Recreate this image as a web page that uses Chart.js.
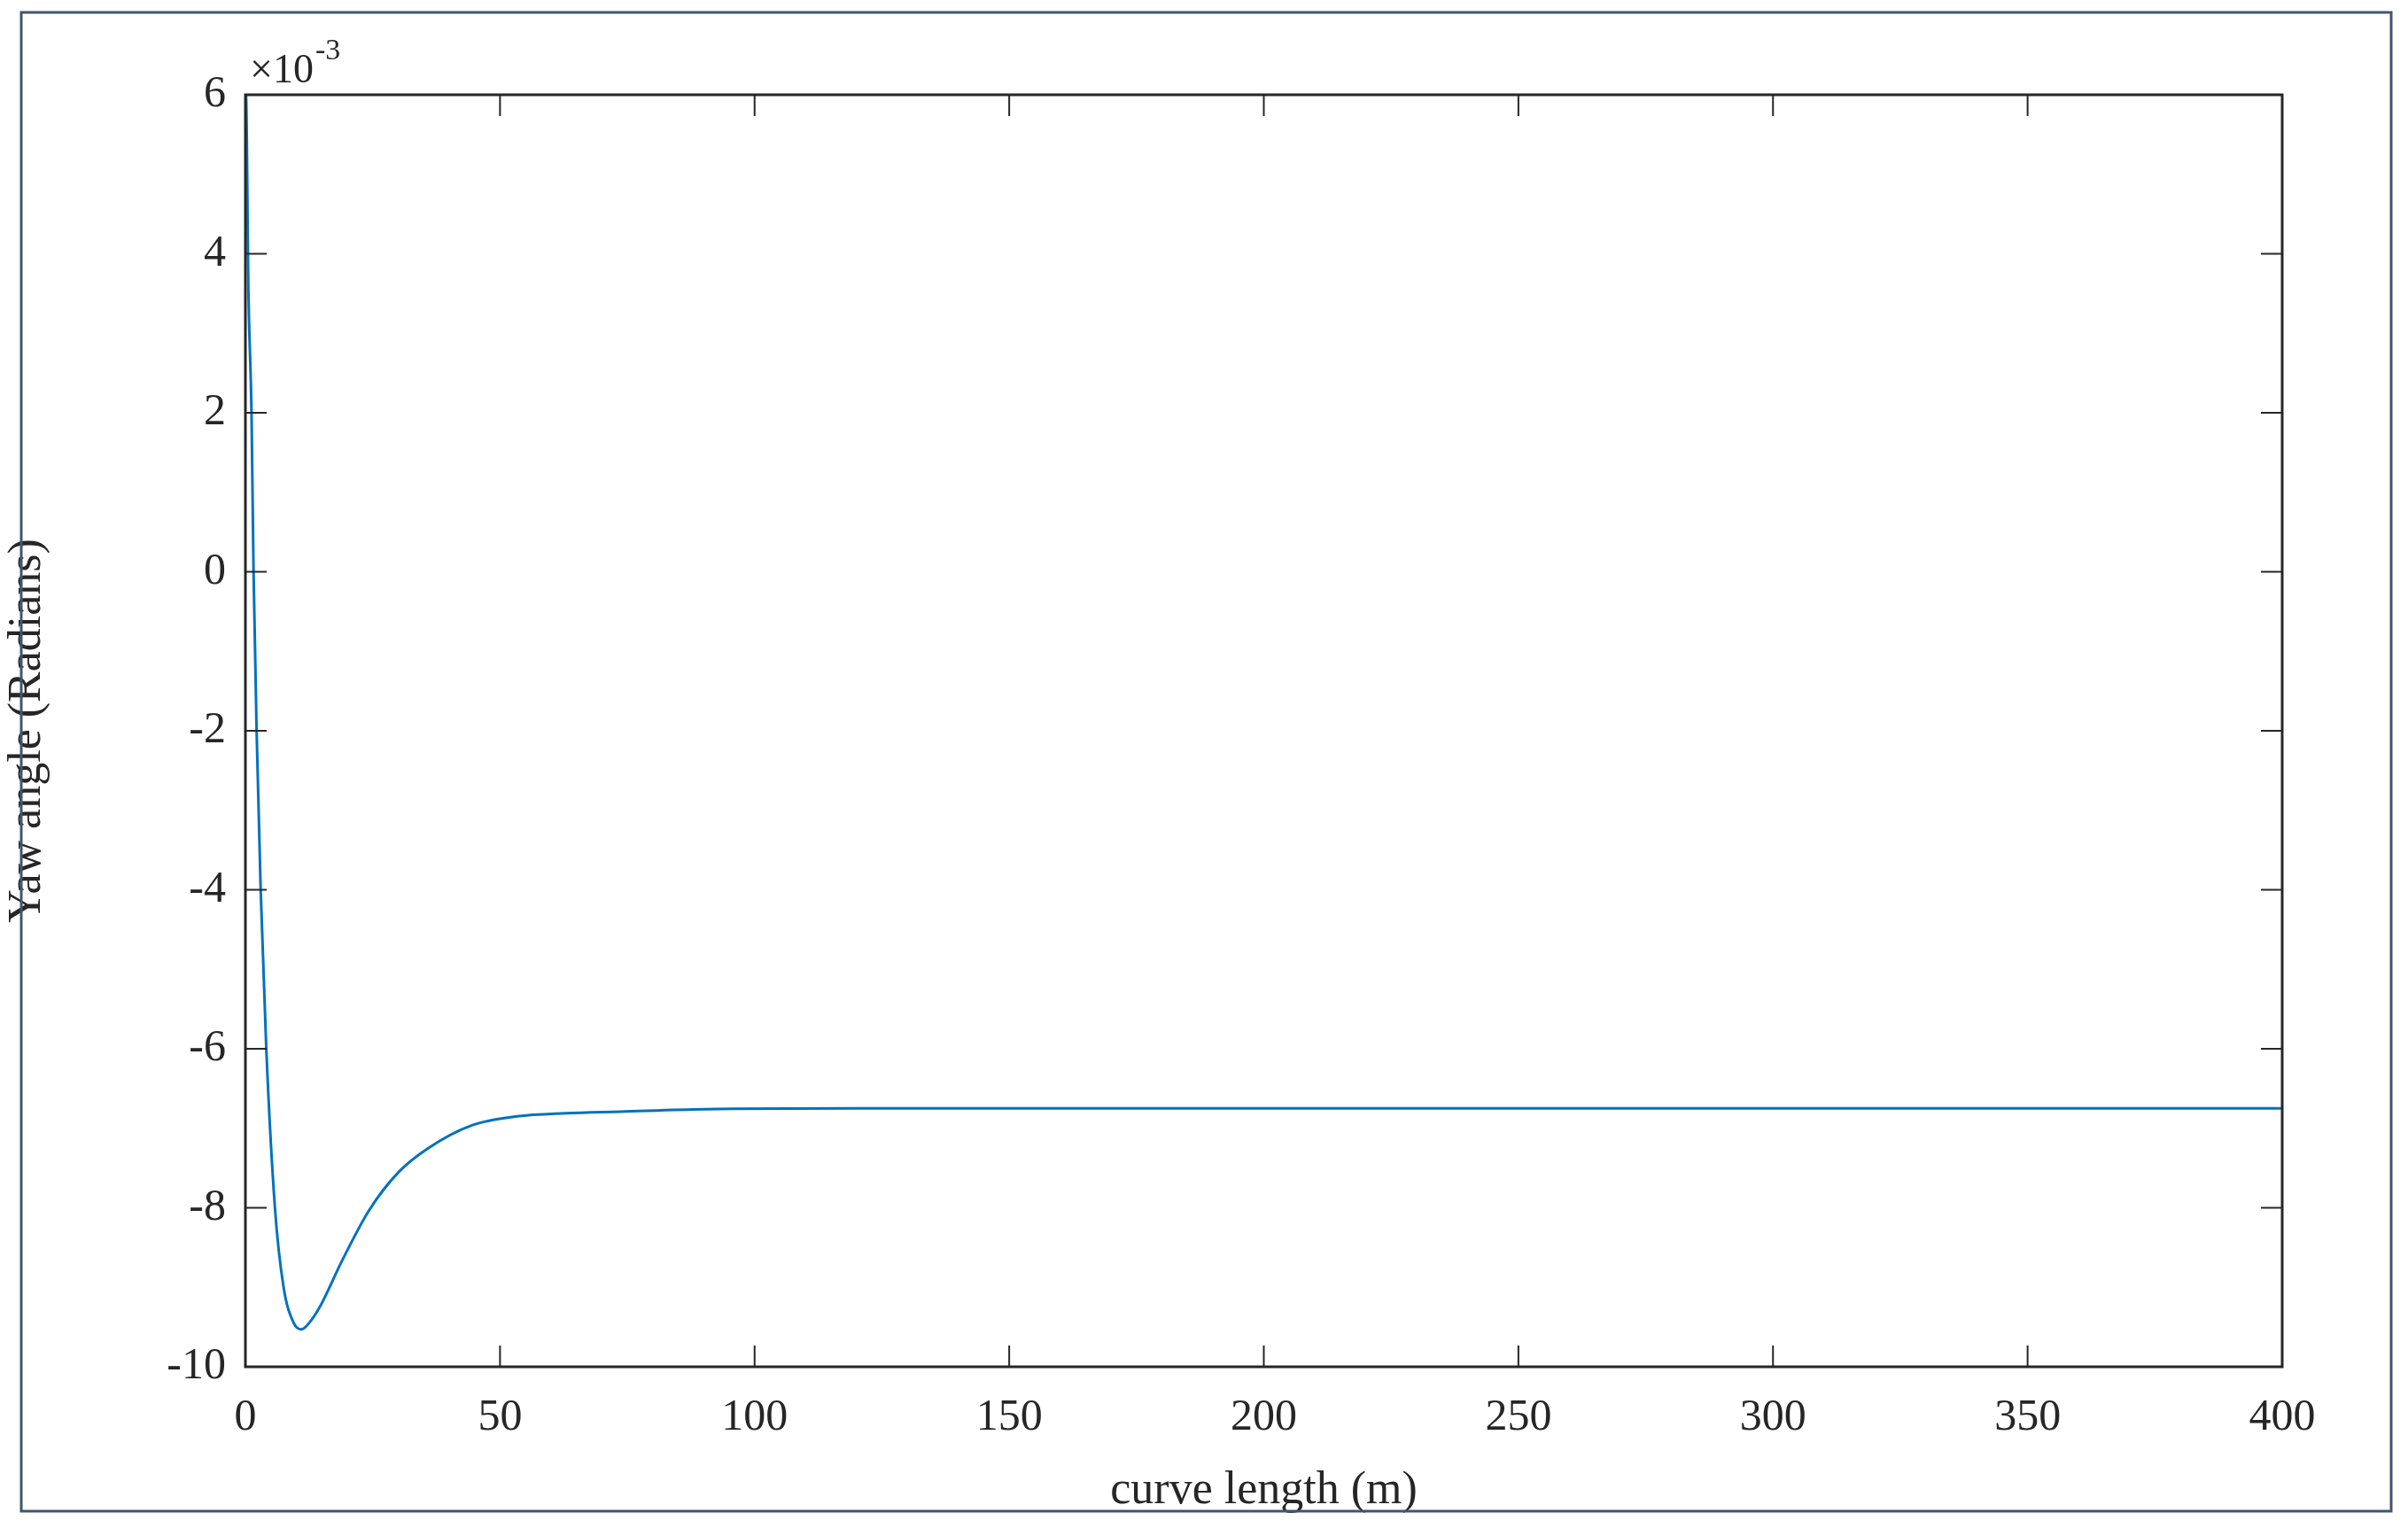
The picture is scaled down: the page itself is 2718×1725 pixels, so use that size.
<!DOCTYPE html>
<html>
<head>
<meta charset="utf-8">
<script src="https://cdn.jsdelivr.net/npm/chart.js@4"></script>
<style>
  html, body { margin: 0; padding: 0; background: #fff; }
  #wrap { width: 2718px; height: 1725px; position: relative; }
</style>
</head>
<body>
<div id="wrap"><canvas id="c"></canvas></div>
<script>
// curve length (m) and yaw angle (x1e-3 rad)
const curveLength = [0, 0.1, 0.6, 1.2, 1.6, 2.2, 3.0, 4.1, 5.8, 7.5, 9.5, 11, 12.5, 14.5, 19.1, 24.3, 30.1, 35.9, 44.6, 53.3, 63, 73.6, 90, 120, 200, 300, 400];
const yawAngle = [6, 6, 3.5, 2.0, 0, -2, -4, -6, -8, -9.0, -9.45, -9.53, -9.45, -9.26, -8.65, -8.03, -7.55, -7.25, -6.96, -6.85, -6.81, -6.79, -6.76, -6.75, -6.75, -6.75, -6.75];
const xTicks = [0, 50, 100, 150, 200, 250, 300, 350, 400];
const yTicks = [-10, -8, -6, -4, -2, 0, 2, 4, 6];

const points = curveLength.map((x, i) => ({ x: x, y: yawAngle[i] }));
const FONT = "'Liberation Serif', 'Times New Roman', serif";

// box, inner ticks on all four sides, exponent label, outer frame
const framePlugin = {
    id: "frame",
    afterDraw(chart) {
        const ctx = chart.ctx;
        const a = chart.chartArea;
        const xs = chart.scales.x, ys = chart.scales.y;
        ctx.save();
        ctx.strokeStyle = "#262626";
        ctx.lineWidth = 2;
        xTicks.forEach(v => {
            const px = xs.getPixelForValue(v);
            ctx.beginPath(); ctx.moveTo(px, a.bottom); ctx.lineTo(px, a.bottom - 24); ctx.stroke();
            ctx.beginPath(); ctx.moveTo(px, a.top); ctx.lineTo(px, a.top + 24); ctx.stroke();
        });
        yTicks.forEach(v => {
            const py = ys.getPixelForValue(v);
            ctx.beginPath(); ctx.moveTo(a.left, py); ctx.lineTo(a.left + 24, py); ctx.stroke();
            ctx.beginPath(); ctx.moveTo(a.right, py); ctx.lineTo(a.right - 24, py); ctx.stroke();
        });
        ctx.lineWidth = 3;
        ctx.strokeRect(a.left, a.top, a.right - a.left, a.bottom - a.top);

        ctx.fillStyle = "#262626";
        ctx.font = "46px " + FONT;
        ctx.textBaseline = "alphabetic";
        ctx.textAlign = "left";
        ctx.fillText("\u00d710", a.left + 5, a.top - 14);
        const w = ctx.measureText("\u00d710").width;
        ctx.font = "34px " + FONT;
        ctx.fillText("-3", a.left + 7 + w, a.top - 40);

        ctx.strokeStyle = "#41566b";
        ctx.lineWidth = 3;
        ctx.strokeRect(24, 14, 2675, 1692);
        ctx.restore();
    }
};

new Chart(document.getElementById("c"), {
    type: "scatter",
    data: {
        datasets: [{
            data: points,
            showLine: true,
            borderColor: "#0072bd",
            borderWidth: 3,
            pointRadius: 0,
            cubicInterpolationMode: "monotone",
            fill: false
        }]
    },
    options: {
        responsive: true,
        maintainAspectRatio: false,
        animation: false,
        layout: { padding: { left: 0, top: 107, right: 142, bottom: 0 } },
        plugins: { legend: { display: false }, tooltip: { enabled: false } },
        scales: {
            x: {
                type: "linear",
                min: 0, max: 400,
                afterBuildTicks: s => { s.ticks = xTicks.map(v => ({ value: v })); },
                afterFit: s => { s.height = 182; },
                grid: { display: false, drawTicks: false },
                border: { display: false },
                ticks: { color: "#262626", font: { family: FONT, size: 50 }, padding: 28, maxRotation: 0 },
                title: { display: true, text: "curve length (m)", color: "#262626", font: { family: FONT, size: 52 }, padding: { top: 0, bottom: 10 } }
            },
            y: {
                type: "linear",
                min: -10, max: 6,
                afterBuildTicks: s => { s.ticks = yTicks.map(v => ({ value: v })); },
                afterFit: s => { s.width = 277; },
                grid: { display: false, drawTicks: false },
                border: { display: false },
                ticks: { color: "#262626", font: { family: FONT, size: 50 }, padding: 22 },
                title: { display: true, text: "Yaw angle (Radians)", color: "#262626", font: { family: FONT, size: 52 }, padding: { top: 0, bottom: 0 } }
            }
        }
    },
    plugins: [framePlugin]
});
</script>
</body>
</html>
